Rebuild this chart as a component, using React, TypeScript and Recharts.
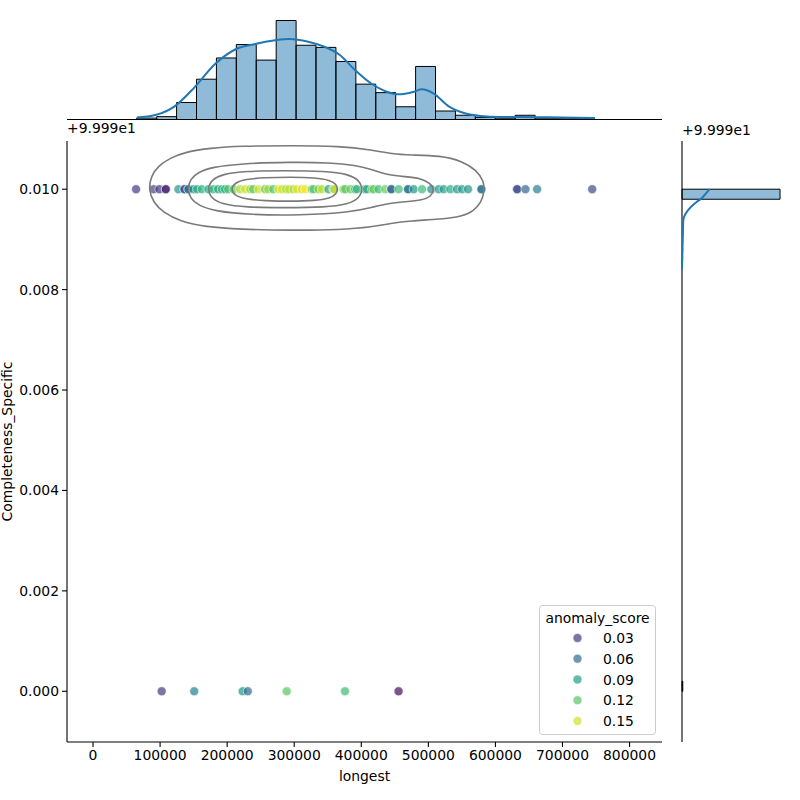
import { ComposedChart, Label, Legend, Line, ReferenceArea, Scatter, XAxis, YAxis } from 'recharts'

const FONT = '"DejaVu Sans", sans-serif'
const FONT_SIZE = 13.9

const X_DOMAIN: [number, number] = [-38800, 848400]
const Y_DOMAIN: [number, number] = [-0.00101, 0.01096]
const X_TICKS = [0, 100000, 200000, 300000, 400000, 500000, 600000, 700000, 800000]
const Y_TICKS = [0, 0.002, 0.004, 0.006, 0.008, 0.01]

// Completeness_Specific is kept relative to the 99.99 axis offset (two levels)
const UPPER_LEVEL = 0.01
const LOWER_LEVEL = 0

// [longest, anomaly_score] for the rows at each level
const UPPER_ROW: [number, number][] = [
  [64200, 0.03], [90300, 0.035], [99000, 0.028], [108500, 0.02], [108500, 0.02],
  [127300, 0.085], [136300, 0.04], [136300, 0.04], [142200, 0.062], [142200, 0.062],
  [149700, 0.085], [155200, 0.1], [162200, 0.105], [172100, 0.1], [179500, 0.105],
  [186600, 0.095], [192100, 0.11], [197000, 0.1], [201500, 0.115], [209400, 0.125],
  [219400, 0.14], [226900, 0.15], [234300, 0.14], [238800, 0.12], [246700, 0.15],
  [256700, 0.12], [261200, 0.14], [268700, 0.115], [276600, 0.155], [281600, 0.15],
  [288000, 0.14], [292500, 0.145], [299000, 0.14], [304000, 0.155], [311500, 0.15],
  [316400, 0.16], [326400, 0.115], [328800, 0.12], [336300, 0.13], [341300, 0.145],
  [351200, 0.09], [358200, 0.15], [360100, 0.14], [373600, 0.125], [376100, 0.12],
  [383600, 0.125], [391000, 0.1], [393600, 0.11], [406000, 0.07], [408500, 0.105],
  [416000, 0.12], [418300, 0.125], [425800, 0.11], [435800, 0.125], [444800, 0.055],
  [444800, 0.055], [455700, 0.11], [469700, 0.065], [469700, 0.065], [478100, 0.085],
  [490600, 0.11], [504500, 0.08], [515400, 0.085], [522800, 0.09], [532800, 0.1],
  [542800, 0.085], [550300, 0.09], [559200, 0.085], [579100, 0.065], [579100, 0.065],
  [632400, 0.04], [632400, 0.04], [644800, 0.055], [662200, 0.07], [744300, 0.04],
]
const LOWER_ROW: [number, number][] = [
  [102400, 0.03], [150900, 0.07], [223100, 0.085], [230800, 0.06],
  [288800, 0.12], [375700, 0.11], [455600, 0.008],
]

// marginal histogram of longest (23 bins) and its kde, in counts
const LONGEST_EDGES = [
  65200, 94900, 124600, 154300, 184000, 213700, 243400, 273100, 302800, 332500, 362200, 391900,
  421600, 451300, 481000, 510700, 540400, 570100, 599800, 629500, 659200, 688900, 718600, 748300,
]
const LONGEST_COUNTS = [2, 4, 24, 57, 87, 106, 84, 140, 105, 102, 82, 50, 38, 18, 75, 12, 6, 3, 1, 6, 1, 1, 1]
const LONGEST_KDE: [number, number][] = [
  [65200, 3], [93100, 6.4], [122200, 19], [151300, 45.5], [181600, 78], [211900, 99],
  [241800, 106.8], [271600, 112], [292500, 113.9], [320900, 110], [344800, 103], [368000, 91.2],
  [390600, 70], [414300, 51.2], [437900, 39.3], [455200, 35.6], [478600, 39.3], [490300, 42.7],
  [507500, 37], [531000, 18.1], [554300, 8.8], [577600, 5], [606700, 3.5], [635800, 3.5],
  [676100, 3.1], [748300, 2.1],
]

// marginal histogram of Completeness_Specific and its kde, in counts
const COMPLETENESS_BINS: [number, number][] = [[0, 0.0002], [0.0098, 0.01]]
const COMPLETENESS_COUNTS = [8, 997]
const COMPLETENESS_KDE: [number, number][] = [
  [278, 0.01], [251, 0.00993], [200, 0.00982], [132, 0.00972], [64, 0.00959],
  [31, 0.00949], [13, 0.00939], [10, 0.00919], [5, 0.00879], [0, 0.0084],
]

// joint kde contour lines, outermost first
const DENSITY_LEVELS: [number, number][][] = [
  [
    [82800, 0.01], [86600, 0.01026], [97000, 0.01046], [114900, 0.01062], [137300, 0.01074],
    [174600, 0.01082], [219400, 0.01086], [294000, 0.01087], [368600, 0.01086], [416400, 0.01078],
    [446300, 0.0107], [473100, 0.01068], [517900, 0.01067], [550700, 0.01056], [571600, 0.01038],
    [582800, 0.01016], [583600, 0.00996], [579100, 0.00974], [567200, 0.00956], [550700, 0.00946],
    [517900, 0.0094], [473100, 0.00937], [443300, 0.00932], [417900, 0.00925], [368600, 0.00919],
    [294000, 0.00918], [219400, 0.0092], [167200, 0.00925], [129800, 0.00936], [104500, 0.00954],
    [89600, 0.00974],
  ],
  [
    [141000, 0.01], [144800, 0.0102], [156700, 0.01034], [177600, 0.01044], [219400, 0.01051],
    [294000, 0.01054], [353700, 0.01053], [391000, 0.01048], [416400, 0.01039], [440300, 0.01028],
    [465700, 0.01025], [488000, 0.01022], [503000, 0.01012], [508900, 0.01], [504500, 0.00986],
    [491000, 0.00978], [465700, 0.00975], [440300, 0.00972], [416400, 0.00964], [383600, 0.00954],
    [308900, 0.00948], [234300, 0.00949], [182100, 0.00956], [156700, 0.00968], [144800, 0.00982],
  ],
  [
    [170900, 0.01], [176100, 0.01018], [192500, 0.0103], [226900, 0.01036], [286600, 0.01037],
    [346300, 0.01036], [380600, 0.0103], [397000, 0.01018], [402200, 0.01], [397000, 0.00982],
    [380600, 0.0097], [346300, 0.00964], [286600, 0.00963], [226900, 0.00964], [192500, 0.0097],
    [176100, 0.00982],
  ],
  [
    [206000, 0.01], [210400, 0.01012], [226900, 0.0102], [256700, 0.01023], [294000, 0.01024],
    [331300, 0.01023], [353700, 0.01018], [362700, 0.0101], [364900, 0.01], [362700, 0.0099],
    [353700, 0.00982], [331300, 0.00977], [294000, 0.00976], [256700, 0.00977], [226900, 0.0098],
    [210400, 0.00988],
  ],
]

const LEGEND_SCORES = [0.03, 0.06, 0.09, 0.12, 0.15]

const VIRIDIS = [
  '#440154', '#482475', '#414487', '#355f8d', '#2a788e', '#21918c',
  '#22a884', '#44bf70', '#7ad151', '#bddf26', '#fde725',
]
const HUE_NORM: [number, number] = [0.003, 0.161]

function hueColor(score: number): string {
  const t = Math.min(1, Math.max(0, (score - HUE_NORM[0]) / (HUE_NORM[1] - HUE_NORM[0])))
  const pos = t * (VIRIDIS.length - 1)
  const i = Math.min(VIRIDIS.length - 2, Math.floor(pos))
  const f = pos - i
  const parse = (h: string) => [1, 3, 5].map((k) => parseInt(h.slice(k, k + 2), 16))
  const a = parse(VIRIDIS[i])
  const b = parse(VIRIDIS[i + 1])
  return `rgb(${a.map((v, k) => Math.round(v + (b[k] - v) * f)).join(',')})`
}

const points = [
  ...UPPER_ROW.map(([x, score]) => ({ x, y: UPPER_LEVEL, score })),
  ...LOWER_ROW.map(([x, score]) => ({ x, y: LOWER_LEVEL, score })),
]
const longestKde = LONGEST_KDE.map(([x, count]) => ({ x, count }))
const completenessKde = COMPLETENESS_KDE.map(([x, y]) => ({ x, y }))

const tickStyle = { fill: '#000', fontSize: FONT_SIZE, fontFamily: FONT }
const axisStroke = { stroke: '#000', strokeWidth: 1.1 }

const ScoreDot = (props: any) => (
  <circle
    cx={props.cx}
    cy={props.cy}
    r={4.5}
    fill={hueColor(props.payload.score)}
    fillOpacity={0.7}
    stroke="#fff"
    strokeOpacity={0.7}
    strokeWidth={0.8}
  />
)

const NoDot = () => <g />

function ScoreLegend() {
  return (
    <svg width={118} height={131} style={{ display: 'block', fontFamily: FONT }}>
      <rect x={0.5} y={0.5} width={116} height={129} rx={3} fill="#fff" fillOpacity={0.8} stroke="#cccccc" />
      <text x={58.5} y={12.5} textAnchor="middle" dominantBaseline="central" fontSize={FONT_SIZE}>
        anomaly_score
      </text>
      {LEGEND_SCORES.map((s, i) => (
        <g key={s}>
          <circle
            cx={38.5}
            cy={33 + i * 20.75}
            r={4.5}
            fill={hueColor(s)}
            fillOpacity={0.7}
            stroke="#fff"
            strokeOpacity={0.7}
            strokeWidth={0.8}
          />
          <text x={64} y={33 + i * 20.75} dominantBaseline="central" fontSize={FONT_SIZE}>
            {s.toFixed(2)}
          </text>
        </g>
      ))}
    </svg>
  )
}

const offsetText = (dx: number, dy: number) => (props: any) => {
  const vb = props.viewBox
  return (
    <text x={vb.x + vb.width + dx} y={vb.y - dy} fontSize={FONT_SIZE} fontFamily={FONT} fill="#000">
      +9.999e1
    </text>
  )
}

const yTitle = (props: any) => {
  const vb = props.viewBox
  const cx = vb.x + 7
  const cy = vb.y + vb.height / 2
  return (
    <text
      x={cx}
      y={cy}
      transform={`rotate(-90, ${cx}, ${cy})`}
      textAnchor="middle"
      dominantBaseline="central"
      fontSize={FONT_SIZE}
      fontFamily={FONT}
      fill="#000"
    >
      Completeness_Specific
    </text>
  )
}

export default function App() {
  return (
    <div style={{ position: 'absolute', left: 0, top: 0, width: 800, height: 800, background: '#fff', fontFamily: FONT }}>
      {/* joint panel: scatter coloured by anomaly_score with kde contours */}
      <div style={{ position: 'absolute', left: 0, top: 0 }}>
        <ComposedChart width={800} height={800} margin={{ top: 141, right: 138, bottom: 0, left: 0 }}>
          <XAxis
            type="number"
            dataKey="x"
            domain={X_DOMAIN}
            ticks={X_TICKS}
            allowDataOverflow
            height={58}
            tickSize={5}
            tickMargin={3}
            tick={tickStyle}
            tickLine={axisStroke}
            axisLine={axisStroke}
          >
            <Label value="longest" position="insideBottom" offset={19} fill="#000" fontSize={FONT_SIZE} fontFamily={FONT} />
          </XAxis>
          <YAxis
            type="number"
            dataKey="y"
            domain={Y_DOMAIN}
            ticks={Y_TICKS}
            allowDataOverflow
            width={67}
            tickSize={5}
            tickMargin={3}
            tick={tickStyle}
            tickLine={axisStroke}
            axisLine={axisStroke}
            tickFormatter={(v: number) => v.toFixed(3)}
          >
            <Label content={yTitle} />
            <Label content={offsetText(0, 8)} />
          </YAxis>
          <Scatter data={points} shape={ScoreDot} isAnimationActive={false} />
          {DENSITY_LEVELS.map((level, i) => (
            <Scatter
              key={i}
              data={level.map(([x, y]) => ({ x, y }))}
              shape={NoDot}
              line={{ stroke: '#7a7a7a', strokeWidth: 1.6 }}
              lineType="joint"
              lineJointType="basisClosed"
              isAnimationActive={false}
            />
          ))}
          <Legend
            content={() => <ScoreLegend />}
            layout="vertical"
            align="center"
            verticalAlign="middle"
            wrapperStyle={{ left: 539, top: 605, width: 118, height: 131 }}
          />
        </ComposedChart>
      </div>

      {/* top marginal: histogram of longest */}
      <div style={{ position: 'absolute', left: 0, top: 0 }}>
        <ComposedChart width={800} height={130} data={longestKde} margin={{ top: 0, right: 138, bottom: 0, left: 67 }}>
          <XAxis
            type="number"
            dataKey="x"
            domain={X_DOMAIN}
            ticks={X_TICKS}
            allowDataOverflow
            height={10.5}
            tickSize={5}
            tick={false}
            tickLine={axisStroke}
            axisLine={axisStroke}
          />
          <YAxis type="number" domain={[0, 169]} hide />
          {LONGEST_COUNTS.map((count, i) => (
            <ReferenceArea
              key={i}
              x1={LONGEST_EDGES[i]}
              x2={LONGEST_EDGES[i + 1]}
              y1={0}
              y2={count}
              fill="#1f77b4"
              fillOpacity={0.5}
              stroke="#000"
              strokeWidth={1}
              ifOverflow="visible"
            />
          ))}
          <Line dataKey="count" type="monotone" stroke="#1f77b4" strokeWidth={2} dot={false} isAnimationActive={false} />
        </ComposedChart>
      </div>

      {/* right marginal: histogram of Completeness_Specific */}
      <div style={{ position: 'absolute', left: 0, top: 0 }}>
        <ComposedChart width={800} height={800} margin={{ top: 141, right: 0, bottom: 58, left: 681 }}>
          <XAxis type="number" dataKey="x" domain={[0, 1200]} hide />
          <YAxis
            type="number"
            dataKey="y"
            domain={Y_DOMAIN}
            ticks={Y_TICKS}
            allowDataOverflow
            width={1}
            tickSize={5}
            tick={false}
            tickLine={axisStroke}
            axisLine={axisStroke}
          >
            <Label content={offsetText(0, 6)} />
          </YAxis>
          {COMPLETENESS_COUNTS.map((count, i) => (
            <ReferenceArea
              key={i}
              x1={0}
              x2={count}
              y1={COMPLETENESS_BINS[i][0]}
              y2={COMPLETENESS_BINS[i][1]}
              fill="#1f77b4"
              fillOpacity={0.5}
              stroke="#000"
              strokeWidth={1}
              ifOverflow="visible"
            />
          ))}
          <Scatter
            data={completenessKde}
            shape={NoDot}
            line={{ stroke: '#1f77b4', strokeWidth: 2 }}
            lineType="joint"
            lineJointType="monotoneY"
            isAnimationActive={false}
          />
        </ComposedChart>
      </div>
    </div>
  )
}
